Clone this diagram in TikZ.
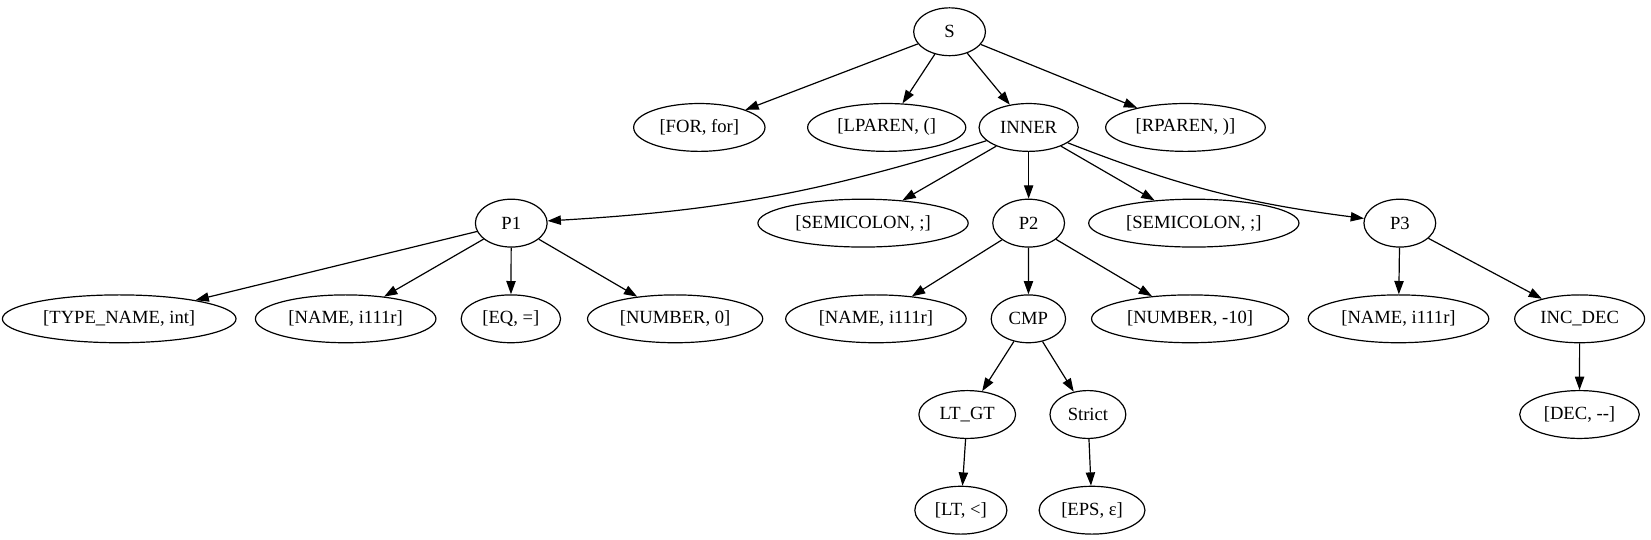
\documentclass[tikz,border=0pt]{standalone}
\usepackage{fontspec}
\setmainfont{Liberation Serif}
\usetikzlibrary{arrows.meta, shapes.geometric}
\tikzset{
    sym/.style={draw, ellipse, minimum width=54pt, minimum height=36pt,
        inner xsep=5pt, inner ysep=2pt, font=\fontsize{14}{16}\selectfont}
}

\begin{document}
\begin{tikzpicture}[
        ->, >={Triangle[length=10pt, width=7pt]}, line width=0.9pt,
        x=1pt, y=1pt, bend angle=7
    ]
        \useasboundingbox (0,23.9) rectangle (1242.3,-381.7);

        \node[sym] (S) at (714.5,0) {S};

        \node[sym] (FOR) at (526.2,-72) {[FOR, for]};
        \node[sym] (LPAREN) at (667.2,-72) {[LPAREN, (]};
        \node[sym] (INNER) at (774.0,-72) {INNER};
        \node[sym] (RPAREN) at (892.0,-72) {[RPAREN, )]};

        \node[sym] (P1) at (384.7,-144) {P1};
        \node[sym] (SEMIa) at (649.4,-144) {[SEMICOLON, ;]};
        \node[sym] (P2) at (774.0,-144) {P2};
        \node[sym] (SEMIb) at (898.3,-144) {[SEMICOLON, ;]};
        \node[sym] (P3) at (1053.3,-144) {P3};

        \node[sym] (TYPE) at (89.7,-216) {[TYPE\_NAME, int]};
        \node[sym] (NAMEa) at (260.1,-216) {[NAME, i111r]};
        \node[sym] (EQ) at (384.4,-216) {[EQ, =]};
        \node[sym] (NUMa) at (508.0,-216) {[NUMBER, 0]};
        \node[sym] (NAMEb) at (659.1,-216) {[NAME, i111r]};
        \node[sym] (CMP) at (773.8,-216) {CMP};
        \node[sym] (NUMb) at (895.5,-216) {[NUMBER, -10]};
        \node[sym] (NAMEc) at (1052.3,-216) {[NAME, i111r]};
        \node[sym] (INCDEC) at (1188.6,-216) {INC\_DEC};

        \node[sym] (LTGT) at (727.8,-288) {LT\_GT};
        \node[sym] (STRICT) at (818.6,-288) {Strict};
        \node[sym] (DEC) at (1188.5,-288) {[DEC, -{}-]};

        \node[sym] (LT) at (723.0,-360) {[LT, <]};
        \node[sym] (EPS) at (821.7,-360) {[EPS, ε]};

        \path (S) edge (FOR)
                  edge (LPAREN)
                  edge (INNER)
                  edge (RPAREN)
              (INNER) edge[bend left] (P1)
                  edge (SEMIa)
                  edge (P2)
                  edge (SEMIb)
                  edge[bend right] (P3)
              (P1) edge (TYPE)
                  edge (NAMEa)
                  edge (EQ)
                  edge (NUMa)
              (P2) edge (NAMEb)
                  edge (CMP)
                  edge (NUMb)
              (P3) edge (NAMEc)
                  edge (INCDEC)
              (CMP) edge (LTGT)
                  edge (STRICT)
              (INCDEC) edge (DEC)
              (LTGT) edge (LT)
              (STRICT) edge (EPS);
    \end{tikzpicture}
\end{document}
